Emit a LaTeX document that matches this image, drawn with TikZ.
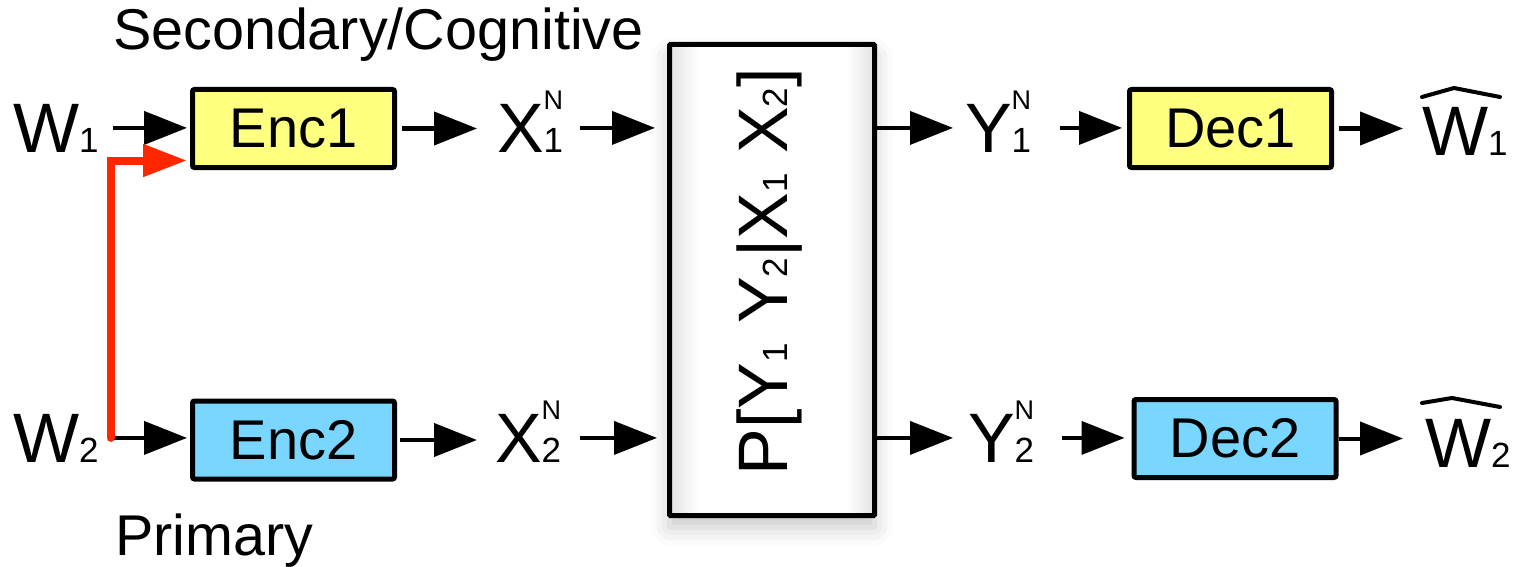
\documentclass[tikz,border=0pt]{standalone}
\usepackage{fontspec}
\setmainfont{Liberation Sans}
\usetikzlibrary{arrows.meta,shadows.blur,calc}
\definecolor{encyellow}{RGB}{255,255,128}
\definecolor{encblue}{RGB}{120,214,255}
\definecolor{arrred}{RGB}{255,38,0}
\pgfdeclarehorizontalshading{vignette}{100bp}{%
  color(0bp)=(black!11); color(25bp)=(black!11); color(32bp)=(white);
  color(68bp)=(white); color(75bp)=(black!11); color(100bp)=(black!11)}
\newcommand{\fs}[1]{\fontsize{#1}{#1}\selectfont}
\newcommand{\sbx}[1]{{\fs{35}#1}}
\newcommand{\supsub}[2]{\smash{\rlap{\raisebox{43pt}{\fs{27}#1}}}{\fs{35}#2}}
\begin{document}
\begin{tikzpicture}[x=1pt,y=-1pt,
  every node/.style={inner sep=0pt, outer sep=0pt},
  txt/.style={font=\fs{70}, anchor=base west},
  lab/.style={font=\fs{57.5}, anchor=base west},
  box/.style={draw=black, line width=5pt, rounded corners=2pt, font=\fs{56},
              minimum width=202pt, minimum height=78pt},
  yel/.style={box, fill=encyellow},
  blu/.style={box, fill=encblue},
  arr/.style={line width=4pt, -{Triangle[length=43pt,width=33pt]}},
  redarr/.style={line width=8pt, draw=arrred, line cap=round, line join=miter,
                 -{Triangle[length=44pt,width=31pt]}},
  hat/.style={line width=4pt, line join=round, line cap=round},
]
\useasboundingbox (0,0) rectangle (1522,567);

% labels
\node[lab] (sec) at (113,50) {Secondary/Cognitive};
\node[lab] (pri) at (115,555) {Primary};

% text nodes
\node[txt] (wone) at (13,152) {W\sbx{1}};
\node[txt] (wtwo) at (13,462) {W\sbx{2}};
\node[txt] (xone) at (497,152) {X\supsub{N}{1}};
\node[txt] (xtwo) at (495,462) {X\supsub{N}{2}};
\node[txt] (yone) at (965,152) {Y\supsub{N}{1}};
\node[txt] (ytwo) at (968,462) {Y\supsub{N}{2}};
\node[txt] (whone) at (1422,155) {W\sbx{1}};
\node[txt] (whtwo) at (1425,467) {W\sbx{2}};

% hats
\draw[hat] ($(whone.base west)+(0,-58)$) -- ($(whone.base west)+(32,-67)$) -- ($(whone.base west)+(78,-58)$);
\draw[hat] ($(whtwo.base west)+(-3,-64)$) -- ($(whtwo.base west)+(27,-69)$) -- ($(whtwo.base west)+(75,-60)$);

% boxes
\node[yel] (encone) at (293.5,128.5) {Enc1};
\node[blu] (enctwo) at (293.5,440) {Enc2};
\node[yel] (decone) at (1230.5,128.5) {Dec1};
\node[blu] (dectwo) at (1235,438.5) {Dec2};

% channel
\node[draw=black, line width=5pt, rounded corners=1pt, minimum width=205pt, minimum height=471pt,
      shading=vignette,
      blur shadow={shadow xshift=0pt, shadow yshift=-12pt, shadow blur radius=18pt, shadow opacity=22}]
      (chan) at (772,280) {};
\node[rotate=90, font=\fs{70}] (chantext) at (770,272)
      {P[Y\sbx{1} Y\sbx{2}|X\sbx{1} X\sbx{2}]};

% arrows row 1
\draw[arr, shorten <=14pt, shorten >=5.5pt] (wone.east) -- (wone.east -| encone.west);
\draw[arr, shorten <=7.5pt, shorten >=20pt] (encone.east) -- (encone.east -| xone.west);
\draw[arr, shorten <=17pt, shorten >=14.5pt] (xone.east) -- (xone.east -| chan.west);
\draw[arr, shorten <=2.5pt, shorten >=12pt] (chan.east |- yone.west) -- (yone.west);
\draw[arr, shorten <=29pt, shorten >=7.5pt] (yone.east) -- (yone.east -| decone.west);
\draw[arr, shorten <=7.5pt, shorten >=19pt] (decone.east) -- (decone.east -| whone.west);
% arrows row 2
\draw[arr, shorten <=14pt, shorten >=5.5pt] (wtwo.east) -- (wtwo.east -| enctwo.west);
\draw[arr, shorten <=5.5pt, shorten >=18pt] (enctwo.east) -- (enctwo.east -| xtwo.west);
\draw[arr, shorten <=19pt, shorten >=12.5pt] (xtwo.east) -- (xtwo.east -| chan.west);
\draw[arr, shorten <=2.5pt, shorten >=15pt] (chan.east |- ytwo.west) -- (ytwo.west);
\draw[arr, shorten <=28pt, shorten >=9.5pt] (ytwo.east) -- (ytwo.east -| dectwo.west);
\draw[arr, shorten <=2.5pt, shorten >=22pt] (dectwo.east) -- (dectwo.east -| whtwo.west);

% red cognitive link
\draw[redarr, shorten >=5.5pt] ($(wtwo.east)+(12,0)$) |- ($(encone.west)+(0,32)$);
\end{tikzpicture}
\end{document}
